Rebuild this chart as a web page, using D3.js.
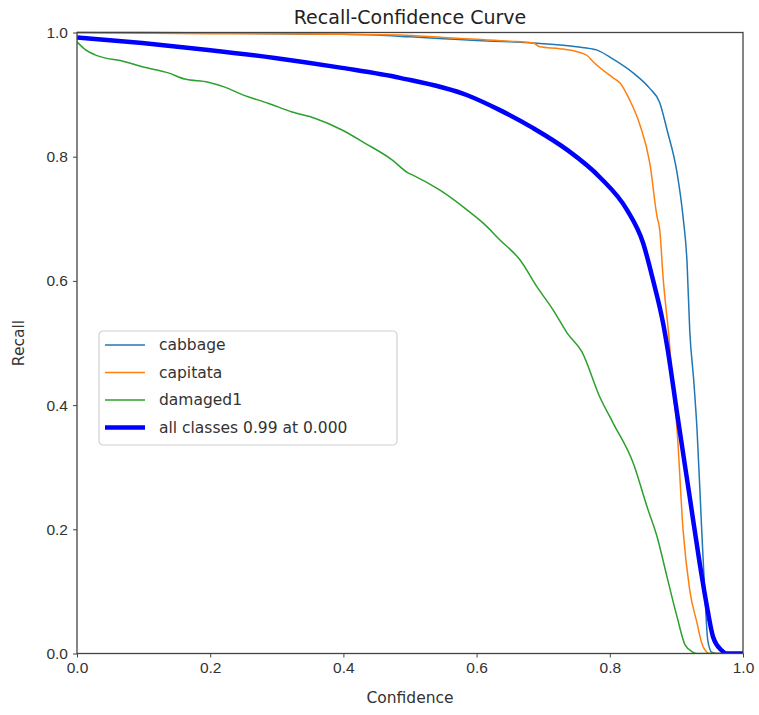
<!DOCTYPE html>
<html>
<head>
<meta charset="utf-8">
<script src="https://cdn.jsdelivr.net/npm/d3@7"></script>
<style>
  body { margin: 0; background: #fff; }
  svg { font-family: "DejaVu Sans", sans-serif; }
</style>
</head>
<body>
<div id="chart"></div>
<script>
// confidence / recall pairs
const cabbage = [
  [0.0, 1.0], [0.1, 1.0], [0.2, 0.999], [0.3, 0.998], [0.4, 0.997], [0.45, 0.996],
  [0.5, 0.993], [0.55, 0.99], [0.6, 0.987], [0.65, 0.985], [0.7, 0.982], [0.75, 0.977],
  [0.78, 0.972], [0.805, 0.957], [0.835, 0.935], [0.86, 0.91], [0.875, 0.887],
  [0.886, 0.843], [0.901, 0.774], [0.91, 0.703], [0.916, 0.629], [0.92, 0.521],
  [0.926, 0.44], [0.931, 0.36], [0.938, 0.199], [0.943, 0.091], [0.947, 0.022],
  [0.953, 0.002], [0.96, 0.0], [1.0, 0.0]
];

const capitata = [
  [0.0, 1.0], [0.07, 0.999], [0.2, 0.998], [0.3, 0.998], [0.4, 0.997], [0.485, 0.996],
  [0.55, 0.992], [0.6, 0.989], [0.65, 0.986], [0.685, 0.983], [0.695, 0.977],
  [0.725, 0.974], [0.751, 0.969], [0.766, 0.963], [0.775, 0.953], [0.805, 0.927],
  [0.815, 0.919], [0.83, 0.891], [0.845, 0.852], [0.86, 0.79], [0.871, 0.703],
  [0.875, 0.682], [0.88, 0.606], [0.89, 0.494], [0.893, 0.45], [0.901, 0.36],
  [0.91, 0.199], [0.92, 0.102], [0.931, 0.049], [0.938, 0.017], [0.946, 0.002],
  [0.95, 0.0], [1.0, 0.0]
];

const damaged1 = [
  [0.0, 0.985], [0.013, 0.972], [0.027, 0.964], [0.072, 0.953], [0.098, 0.945],
  [0.137, 0.935], [0.162, 0.925], [0.197, 0.92], [0.222, 0.912], [0.248, 0.9],
  [0.287, 0.886], [0.323, 0.872], [0.357, 0.862], [0.398, 0.843], [0.432, 0.822],
  [0.473, 0.795], [0.497, 0.774], [0.505, 0.77], [0.545, 0.746], [0.586, 0.714],
  [0.61, 0.693], [0.635, 0.666], [0.665, 0.634], [0.691, 0.59], [0.715, 0.553],
  [0.736, 0.516], [0.758, 0.486], [0.785, 0.413], [0.805, 0.371], [0.835, 0.307],
  [0.856, 0.236], [0.871, 0.188], [0.886, 0.123], [0.901, 0.059], [0.913, 0.014],
  [0.925, 0.002], [0.93, 0.0], [1.0, 0.0]
];

const allClasses = [
  [0.0, 0.992], [0.098, 0.983], [0.197, 0.972], [0.297, 0.959], [0.398, 0.943],
  [0.485, 0.927], [0.586, 0.899], [0.635, 0.875], [0.685, 0.846], [0.736, 0.811],
  [0.785, 0.767], [0.826, 0.714], [0.85, 0.661], [0.865, 0.601], [0.88, 0.532],
  [0.887, 0.489], [0.901, 0.387], [0.92, 0.252], [0.935, 0.145], [0.946, 0.075],
  [0.955, 0.027], [0.968, 0.005], [0.975, 0.0], [1.0, 0.0]
];

const seriesNames = ["cabbage", "capitata", "damaged1", "all classes 0.99 at 0.000"];
const seriesData = [cabbage, capitata, damaged1, allClasses];
const seriesColors = ["#1f77b4", "#ff7f0e", "#2ca02c", "#0000ff"];
const seriesWidths = [1.5, 1.5, 1.5, 4.5];

const tickValues = [0, 0.2, 0.4, 0.6, 0.8, 1.0];

const width = 759, height = 715;
const margins = { top: 32.5, right: 16, bottom: 61.5, left: 77 };

const svg = d3.select("#chart")
  .append("svg")
  .attr("width", width)
  .attr("height", height);

// Escalas
const xScale = d3.scaleLinear()
  .domain([0, 1])
  .range([margins.left, width - margins.right]);

const yScale = d3.scaleLinear()
  .domain([0, 1])
  .range([height - margins.bottom, margins.top]);

// Linhas
const line = d3.line()
  .curve(d3.curveMonotoneX)
  .x(d => xScale(d[0]))
  .y(d => yScale(d[1]));

svg.append("clipPath").attr("id", "plot-clip")
  .append("rect")
  .attr("x", margins.left)
  .attr("y", margins.top - 3)
  .attr("width", width - margins.left - margins.right + 3)
  .attr("height", height - margins.top - margins.bottom + 3);

const plot = svg.append("g").attr("clip-path", "url(#plot-clip)");

seriesData.forEach((d, i) => {
  plot.append("path")
    .datum(d)
    .attr("fill", "none")
    .attr("stroke", seriesColors[i])
    .attr("stroke-width", seriesWidths[i])
    .attr("stroke-linejoin", "round")
    .attr("d", line);
});

// Eixos
const xAxis = svg.append("g")
  .attr("transform", `translate(0, ${height - margins.bottom})`)
  .call(d3.axisBottom(xScale).tickValues(tickValues).tickFormat(d3.format(".1f"))
    .tickSizeInner(4).tickSizeOuter(0).tickPadding(4));

const yAxis = svg.append("g")
  .attr("transform", `translate(${margins.left}, 0)`)
  .call(d3.axisLeft(yScale).tickValues(tickValues).tickFormat(d3.format(".1f"))
    .tickSizeInner(4).tickSizeOuter(0).tickPadding(5));

[xAxis, yAxis].forEach(ax => {
  ax.select(".domain").remove();
  ax.selectAll("line").attr("stroke", "#444");
  ax.selectAll("text")
    .attr("fill", "#333")
    .style("font-size", "15.5px");
});

// moldura
svg.append("rect")
  .attr("x", margins.left)
  .attr("y", margins.top)
  .attr("width", width - margins.left - margins.right)
  .attr("height", height - margins.top - margins.bottom)
  .attr("fill", "none")
  .attr("stroke", "#444")
  .attr("stroke-width", 1.3);

// Titulo e rotulos
svg.append("text")
  .attr("x", (margins.left + width - margins.right) / 2)
  .attr("y", 24)
  .attr("text-anchor", "middle")
  .style("font-size", "19px")
  .attr("fill", "#222")
  .text("Recall-Confidence Curve");

svg.append("text")
  .attr("x", (margins.left + width - margins.right) / 2)
  .attr("y", 703)
  .attr("text-anchor", "middle")
  .style("font-size", "15.5px")
  .attr("fill", "#333")
  .text("Confidence");

svg.append("text")
  .attr("transform", `translate(24, ${(margins.top + height - margins.bottom) / 2}) rotate(-90)`)
  .attr("text-anchor", "middle")
  .style("font-size", "15.5px")
  .attr("fill", "#333")
  .text("Recall");

// Legenda
const legend = svg.append("g").attr("transform", "translate(99, 331)");

legend.append("rect")
  .attr("width", 298)
  .attr("height", 114)
  .attr("rx", 4)
  .attr("fill", "#fff")
  .attr("fill-opacity", 0.85)
  .attr("stroke", "#d0d0d0")
  .attr("stroke-width", 1.2);

seriesNames.forEach((name, i) => {
  const y = 14 + i * 27.5;
  legend.append("line")
    .attr("x1", 6).attr("x2", 46)
    .attr("y1", y).attr("y2", y)
    .attr("stroke", seriesColors[i])
    .attr("stroke-width", seriesWidths[i]);
  legend.append("text")
    .attr("x", 60)
    .attr("y", y)
    .attr("dy", "0.35em")
    .style("font-size", "15.5px")
    .attr("fill", "#333")
    .text(name);
});
</script>
</body>
</html>
